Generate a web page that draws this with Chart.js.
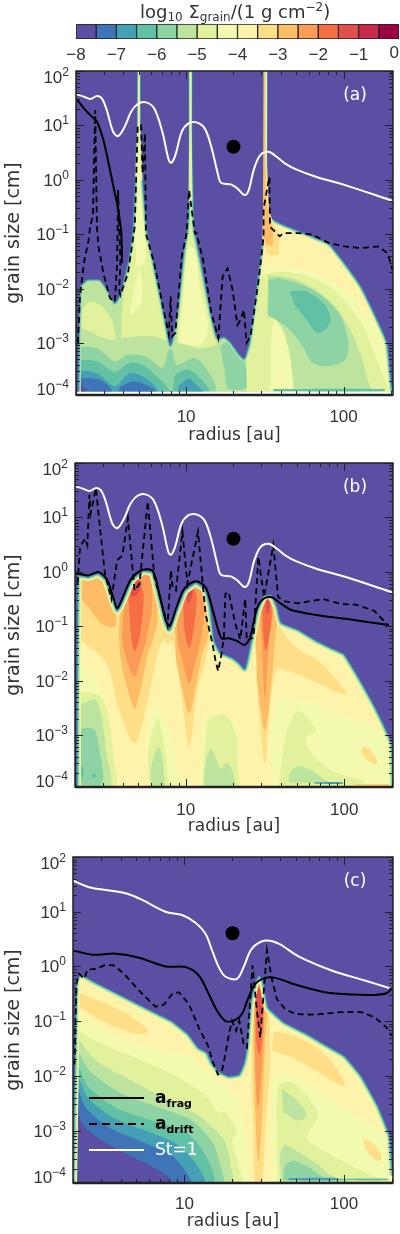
<!DOCTYPE html>
<html>
<head>
<meta charset="utf-8">
<script src="https://cdn.jsdelivr.net/npm/chart.js@4/dist/chart.umd.js"></script>
<style>
body { margin: 0; background: #fff; }
canvas { position: absolute; left: 0; }
</style>
</head>
<body>
<canvas id="colorbar" width="400" height="70" style="top:0"></canvas>
<canvas id="panelA" width="400" height="400" style="top:60px"></canvas>
<canvas id="panelB" width="400" height="390" style="top:455px"></canvas>
<canvas id="panelC" width="400" height="386" style="top:848px"></canvas>
<script>
// log10 sigma_grain contour levels, -8 to 0 in steps of 0.5
const levelEdges = [-8,-7.5,-7,-6.5,-6,-5.5,-5,-4.5,-4,-3.5,-3,-2.5,-2,-1.5,-1,-0.5,0];
const levelColors = ["#5a4fa2","#3f74b6","#46a0b5","#62c1a5","#8dd3a3","#bce49f","#e2f19b","#f3f9ae",
  "#fff3ab","#fedf87","#fdbd66","#fb9c56","#f76d44","#e0504b","#c8294c","#9e0142"];
const yPowers = [2,1,0,-1,-2,-3,-4];
const xLabels = [10,100];
const colorbarTicks = [-8,-7,-6,-5,-4,-3,-2,-1,0];
const planetRadius = [20];
const planetSize = [4.05];

// all curves and contours are flat lists of log10(radius/au), log10(size/cm)
const stokesAB = [.305,1.571,.351,1.528,.392,1.485,.434,1.54,.465,1.497,.496,1.282,.537,.883,.568,.804,.61,.975,.651,1.25,.693,1.393,.745,1.423,.797,1.313,.849,.883,.89,.362,.907,.313,.932,.454,.973,.883,1.015,1.037,1.066,1.055,1.118,.945,1.16,.607,1.201,.117,1.222,-.055,1.284,-.086,1.326,-.16,1.371,-.282,1.398,-.19,1.429,.178,1.471,.454,1.523,.515,1.575,.423,1.627,.301,1.699,.19,1.824,.055,2.01,-.098,2.315,-.393];
const stokesC = [.298,1.571,.402,1.448,.527,1.387,.631,1.337,.735,1.215,.881,1,.985,.939,1.069,.798,1.131,.601,1.173,.294,1.215,-.012,1.256,-.184,1.329,-.227,1.371,-.012,1.423,.325,1.506,.472,1.59,.417,1.715,.184,1.923,-.074,2.131,-.258,2.288,-.399];
const fragA = [.305,1.485,.351,1.313,.402,1.16,.434,1.067,.475,.73,.517,.178,.548,-.252,.562,-.436,.579,-.742,.589,-.988,.593,-1.53];
const fragB = [.308,-.025,.385,-.068,.448,-.006,.5,-.13,.542,-.469,.567,-.673,.594,-.531,.656,-.13,.729,.037,.792,.012,.833,-.407,.875,-.901,.9,-.994,.938,-.685,.99,-.315,1.063,-.173,1.125,-.284,1.177,-.778,1.225,-1.222,1.271,-1.222,1.323,-1.272,1.371,-1.346,1.406,-1.21,1.448,-.685,1.49,-.5,1.542,-.469,1.604,-.593,1.667,-.704,1.813,-.79,2.021,-.87,2.271,-.975];
const fragC = [.298,.294,.423,.215,.569,.233,.715,.16,.881,0,1.006,-.012,1.09,-.166,1.152,-.503,1.204,-.81,1.256,-.994,1.308,-.994,1.36,-.871,1.402,-.564,1.444,-.319,1.506,-.209,1.569,-.209,1.715,-.35,1.881,-.472,2.048,-.515,2.194,-.521,2.267,-.491,2.298,-.411];
const driftA = [.313,-3,.326,-2.15,.351,-1.53,.382,-1.1,.388,-.926,.409,-.62,.423,1.28,.434,-.865,.444,-1.23,.475,-1.72,.517,-2.18,.548,-2.24,.562,-1.53,.568,-.19,.583,-1.53,.575,-2.02,.583,-2.12,.631,-1.72,.662,-1.1,.674,-.865,.693,1,.714,1,.724,.117,.739,.853,.745,-.99,.797,-1.53,.849,-2.27,.89,-2.85,.902,-2.15,.911,-2.88,.932,-2.82,.973,-1.41,1.004,-.98,1.019,-.19,1.056,-.99,1.066,-.98,1.108,-1.47,1.16,-2.45,1.205,-2.91,1.232,-1.78,1.263,-1.63,1.295,-2.02,1.326,-2.67,1.346,-2.58,1.367,-2.39,1.384,-3,1.409,-2.88,1.461,-1.84,1.492,-1.04,1.492,-.53,1.529,.055,1.533,-.865,1.595,-1.04,1.616,-.98,1.71,-.98,1.803,-1.01,1.907,-1.165,2.01,-1.227,2.114,-1.257,2.218,-1.227,2.28,-1.35,2.311,-1.656];
const driftB = [.317,-.222,.333,.457,.365,.611,.379,.488,.392,1.414,.4,1.074,.433,1.537,.458,.827,.49,-.037,.531,-.5,.567,.21,.6,.302,.635,.981,.677,-.346,.708,-.222,.76,1.29,.802,-.099,.854,-.654,.885,-.994,.906,.025,.917,-.284,.938,-.346,.979,.735,1.01,-.222,1.077,.735,1.125,-.778,1.167,-1.302,1.188,-1.642,1.204,-1.827,1.225,-1.519,1.24,-1.21,1.25,-.407,1.271,-.377,1.313,-.963,1.344,-1.241,1.375,-.5,1.385,-1.272,1.427,-1.21,1.458,.272,1.494,-.469,1.552,.488,1.583,-.469,1.625,-.543,1.708,-.58,1.865,-.5,1.979,-.593,2.073,-.605,2.188,-.716,2.281,-.994];
const driftC = [.31,-1.79,.323,-.319,.34,-.135,.371,-.227,.392,-.06,.444,-.043,.506,.03,.558,.018,.621,-.135,.715,-.442,.819,-.736,.871,-.699,.923,-.503,.965,-.472,1.027,-.687,1.09,-1.117,1.148,-1.454,1.183,-1.791,1.21,-1.975,1.235,-1.914,1.256,-1.607,1.281,-1.209,1.298,-.994,1.323,-1.178,1.344,-.994,1.371,-1.423,1.392,-1.485,1.427,.018,1.454,-.81,1.475,-1.3,1.517,.294,1.548,-.227,1.579,-.595,1.631,-.779,1.694,-.871,1.819,-.883,1.985,-.834,2.11,-.834,2.194,-.933,2.267,-1.117,2.298,-1.27];

// upper limit of the populated region in each panel
const edgeA = [.313,-3.99,.315,-3,.326,-1.96,.371,-1.83,.454,-1.83,.496,-1.99,.548,-2.26,.579,-2.09,.631,-1.47,.658,-.92,.672,-.006,.687,1,.689,2.1,.712,2.1,.714,1,.728,-.006,.755,-.92,.797,-1.53,.849,-2.27,.89,-2.88,.9,-3.04,.915,-2.88,.946,-2.33,.983,-1.29,1.004,-.92,1.013,-.374,1.015,.853,1.015,2.1,1.041,2.1,1.041,.853,1.05,-.374,1.056,-.92,1.098,-1.53,1.16,-2.45,1.201,-2.91,1.243,-2.88,1.284,-2.98,1.336,-3.19,1.367,-3.28,1.398,-3,1.45,-1.84,1.481,-1.1,1.49,.239,1.492,2.1,1.519,2.1,1.519,.239,1.525,-.497,1.55,-.712,1.616,-.816,1.824,-1.061,1.907,-1.165,2.01,-1.533,2.114,-1.963,2.218,-2.577,2.28,-3.006,2.311,-3.865,2.315,-3.99];
const edgeB = [.31,-3.99,.317,-.068,.385,-.086,.448,-.025,.5,-.148,.542,-.5,.567,-.704,.594,-.562,.656,-.148,.729,.025,.792,-.006,.833,-.438,.871,-.901,.896,-1.056,.938,-.716,.99,-.346,1.063,-.191,1.125,-.315,1.156,-.654,1.183,-1.264,1.219,-1.479,1.292,-1.571,1.344,-1.693,1.371,-1.785,1.385,-1.632,1.41,-1.264,1.448,-.716,1.49,-.438,1.542,-.42,1.579,-.654,1.604,-.932,1.708,-1.056,1.813,-1.241,1.917,-1.395,2,-1.509,2.104,-2,2.208,-2.552,2.302,-3.166,2.31,-3.99];
const edgeC = [.298,-3.97,.31,-1.7,.319,-.258,.35,-.147,.444,-.288,.548,-.442,.673,-.626,.798,-.81,.923,-.994,1.027,-1.239,1.09,-1.485,1.142,-1.57,1.173,-1.76,1.215,-1.91,1.277,-2,1.34,-1.97,1.371,-1.76,1.392,-1.39,1.413,-.626,1.444,-.258,1.469,-.147,1.496,-.288,1.527,-.748,1.569,-.871,1.631,-1.025,1.756,-1.209,1.881,-1.423,2.006,-1.636,2.11,-2,2.215,-2.545,2.288,-3.09,2.308,-3.82,2.308,-3.97];

// filled contours: [level index, outline], painted in this order
const blobsA = [
  [6,[.34,-2.39,.39,-2.24,.454,-2.3,.517,-2.51,.548,-2.76,.548,-2.94,.475,-2.91,.392,-2.79,.33,-2.73]],
  [6,[.589,-2.91,.595,-2.33,.631,-1.59,.662,-.92,.683,.92,.688,2.1,.712,2.1,.725,.92,.755,-.92,.807,-1.72,.859,-2.51,.886,-2.94,.786,-2.88,.703,-2.88]],
  [7,[.641,-2.45,.672,-1.96,.703,-1.66,.724,-1.96,.714,-2.27,.662,-2.48]],
  [7,[.676,-.92,.689,.92,.712,.92,.735,-.92,.745,-1.41,.714,-1.59,.683,-1.59]],
  [6,[.942,-3,.963,-2.15,.994,-1.29,1.015,-.92,1.021,2.1,1.037,2.1,1.056,-.92,1.087,-1.41,1.129,-2.21,1.18,-2.88,1.191,-3.03,1.077,-3.1,.994,-3.03]],
  [7,[.952,-2.97,.977,-2.27,1.015,-1.23,1.056,-1.29,1.087,-1.96,1.139,-2.7,1.098,-3.03,.994,-3.03]],
  [7,[1.39,-4.1,1.39,-2.9,1.45,-.5,2.4,-.5,2.4,-4.1]],
  [8,[1.47,-.5,2.4,-.5,2.4,-3.2,2.218,-2.7,2.077,-2.21,1.907,-1.84,1.699,-1.62,1.533,-1.59,1.471,-1.78]],
  [6,[1.398,-2.94,1.45,-1.84,1.512,-1.72,1.699,-1.72,1.907,-1.96,2.114,-2.64,2.218,-3.37,2.29,-3.865,2.3,-4.05,1.388,-4.05]],
  [7,[1.537,-3.865,1.544,-2.76,1.564,-2.58,1.616,-2.82,1.658,-3.25,1.679,-3.865]],
  [8,[1.581,-3.865,1.595,-3.53,1.61,-3.865]],
  [5,[1.523,-1.75,1.699,-1.84,1.907,-2.21,2.031,-2.7,2.114,-3.25,2.145,-3.62,2.166,-3.865,1.699,-3.865,1.679,-3.62,1.658,-3.19,1.616,-2.76,1.564,-2.56,1.512,-2.48]],
  [4,[1.523,-1.84,1.595,-1.81,1.803,-2.02,1.969,-2.45,2.031,-3,2.01,-3.31,1.907,-3.43,1.803,-3.37,1.741,-3.07,1.658,-2.76,1.575,-2.58,1.523,-2.51]],
  [3,[1.658,-2.05,1.762,-2.05,1.881,-2.3,1.918,-2.58,1.881,-2.76,1.829,-2.82,1.767,-2.58,1.689,-2.3]],
  [3,[1.554,-3.85,2.259,-3.85,2.259,-3.89,1.554,-3.89]],
  [4,[.29,-3.07,.434,-3.1,.548,-3.34,.631,-3.22,.745,-3.25,.849,-3.46,.89,-3.13,.911,-3.13,.942,-3.4,1.056,-3.28,1.16,-3.62,1.18,-3.89,.29,-3.89]],
  [4,[1.218,-3.07,1.263,-2.97,1.316,-3.13,1.367,-3.31,1.382,-3.8,1.336,-3.865,1.263,-3.83,1.243,-3.49]],
  [3,[.29,-3.31,.434,-3.34,.548,-3.53,.641,-3.37,.724,-3.4,.849,-3.71,.911,-3.89,.932,-3.59,1.015,-3.49,1.098,-3.68,1.143,-3.89,.29,-3.89]],
  [2,[.29,-3.49,.434,-3.56,.548,-3.8,.641,-3.56,.745,-3.65,.818,-3.89,.29,-3.89]],
  [2,[.952,-3.79,1.015,-3.66,1.077,-3.8,1.108,-3.89,.947,-3.89]],
  [1,[.29,-3.65,.454,-3.68,.527,-3.89,.29,-3.89]],
  [1,[.583,-3.81,.662,-3.71,.745,-3.77,.807,-3.89,.568,-3.89]],
  [0,[.29,-3.6,.33,-3.75,.37,-3.89,.29,-3.89]]
];
// painted over the sky so they stay visible inside the narrow spikes
const overA = [
  [6,[.694,2.1,.707,2.1,.709,1,.722,-.006,.678,-.006,.692,1]],
  [7,[.696,.6,.705,.6,.715,-.3,.685,-.3]],
  [6,[1.021,2.1,1.035,2.1,1.036,.85,1.04,-.4,1.018,-.4,1.02,.85]],
  [9,[1.505,.2,1.515,.2,1.53,-.6,1.59,-1.02,1.59,-1.38,1.52,-1.38,1.485,-1.1,1.492,-.3]],
  [10,[1.492,2.1,1.504,2.1,1.506,-.3,1.55,-.9,1.55,-1.2,1.51,-1.2,1.488,-1]],
  [8,[1.504,2.1,1.513,2.1,1.513,.2,1.504,.2]]
];
const blobsB = [
  [8,[.29,1,2.4,1,2.4,-3,2.26,-3.04,2.167,-2.8,2.02,-2.67,1.833,-2.43,1.625,-2.31,1.573,-2.37,1.531,-3.1,1.531,-3.96,1.354,-3.96,1.333,-3.04,1.25,-2.61,1.135,-2.67,1.104,-3.1,1.094,-3.96,.983,-3.96,.917,-3.1,.865,-2.74,.823,-2.46,.775,-2.64,.75,-3.1,.771,-3.96,.552,-3.96,.552,-3.53,.5,-2.49,.438,-1.97,.354,-1.69,.29,-1.39]],
  [6,[.29,-2.2,.458,-2.28,.51,-2.64,.542,-3.35,.552,-3.96,.29,-3.96]],
  [5,[.29,-2.4,.333,-2.43,.427,-2.35,.469,-2.67,.5,-3.35,.521,-3.96,.29,-3.96]],
  [4,[.29,-2.9,.417,-2.89,.448,-3.16,.469,-3.9,.29,-3.9]],
  [3,[.29,-3.41,.35,-3.59,.35,-3.78,.29,-3.9]],
  [3,[.406,-3.75,.42,-3.7,.435,-3.75,.42,-3.8]],
  [6,[.771,-3.96,.765,-3.28,.823,-2.71,.865,-3.22,.885,-3.72,.896,-3.96]],
  [5,[.781,-3.96,.781,-3.6,.827,-3.22,.854,-3.47,.869,-3.96]],
  [6,[1.104,-3.96,1.125,-3.1,1.146,-2.72,1.25,-2.64,1.323,-3.04,1.323,-3.35,1.344,-3.96]],
  [5,[1.115,-3.96,1.125,-3.53,1.156,-3.26,1.188,-3.41,1.219,-3.62,1.26,-3.52,1.302,-3.72,1.308,-3.96]],
  [6,[1.583,-3.96,1.604,-3.53,1.635,-2.98,1.708,-2.56,1.823,-2.92,1.76,-3.04,1.781,-3.29,1.917,-3.65,2.125,-3.87,2,-3.96]],
  [5,[1.646,-3.87,1.667,-3.65,1.74,-3.58,1.875,-3.81,1.917,-3.9]],
  [2,[1.8125,-3.87,1.99,-3.87,1.99,-3.9,1.8125,-3.9]],
  [10,[2.063,-3.91,2.29,-3.91,2.29,-3.93,2.063,-3.93]],
  [9,[2.115,-3.22,2.156,-3.25,2.208,-3.47,2.198,-3.54,2.146,-3.47,2.108,-3.32]],
  [9,[.29,1,.29,-1.3,.333,-1.26,.5,-1.69,.573,-2.49,.677,-3.16,.75,-2.49,.813,-1.63,.854,-1.26,.885,-1.33,.917,-1.26,.969,-2.18,1.021,-3.23,1.073,-2.18,1.125,-1.63,1.167,-1.26,1.417,-1.26,1.458,-2.49,1.5,-3.53,1.531,-2.49,1.573,-1.81,1.646,-1.81,2.01,-2.27,1.99,-2.12,1.833,-1.63,1.708,-1.42,1.6,-1,1.6,1]],
  [10,[.29,.3,.56,.3,.56,-.9,.552,-1.02,.469,-.96,.385,-.65,.29,-.35]],
  [10,[.594,-.53,.579,-1.15,.594,-1.69,.635,-2.18,.677,-2.52,.719,-2.12,.76,-1.51,.792,-1.26,.823,-.84,.79,.3,.59,.3]],
  [10,[.938,-1.63,.979,-2.18,1.021,-2.61,1.063,-2.12,1.104,-1.51,1.135,-1.26,1.167,-.72,1.17,.3,.93,.3,.93,-.9]],
  [10,[1.448,-2,1.5,-2.92,1.542,-2,1.5625,-1.26,1.58,-.78,1.58,.3,1.44,.3,1.44,-.9]],
  [11,[.615,-.47,.6,-1.26,.635,-1.69,.677,-1.94,.708,-1.69,.75,-1.26,.788,-.59,.75,.3,.62,.3]],
  [11,[.948,-.72,.948,-1.26,.979,-1.63,1.021,-2.06,1.063,-1.63,1.094,-1.26,1.115,-.72,1.1,.3,.96,.3]],
  [11,[1.469,-.72,1.479,-1.26,1.5,-2.37,1.525,-1.26,1.552,-.72,1.54,.3,1.48,.3]],
  [12,[.635,-.35,.656,-1.21,.677,-1.46,.708,-1.21,.733,-.41,.6875,-.13]],
  [12,[.983,-.41,.99,-1.02,1.021,-1.4,1.052,-1.02,1.067,-.41,1.021,-.22]],
  [12,[1.483,-.65,1.49,-1.21,1.506,-1.46,1.525,-1.21,1.542,-.72,1.517,-.47]],
  [13,[.65,-.35,.667,-.47,.708,-.35,.719,-.19,.6875,-.13,.6625,-.19]],
  [13,[1,-.47,1.017,-.59,1.0375,-.47,1.042,-.35,1.017,-.3]],
  [13,[1.504,-.65,1.517,-.78,1.533,-.65,1.525,-.53,1.51,-.53]]
];
const blobsC = [
  [8,[.29,1,2.4,1,2.4,-3.2,2.277,-3.09,2.194,-2.91,2.048,-2.67,1.84,-2.24,1.652,-1.94,1.558,-2,1.538,-2.91,1.538,-3.97,1.413,-3.97,1.392,-3.21,1.34,-2.42,1.256,-2.18,1.173,-2,1.027,-1.636,.819,-1.485,.548,-1.239,.329,-.81,.29,-.75]],
  [9,[1.558,-1.18,1.715,-1.3,1.892,-1.636,2.006,-2.12,1.985,-2.18,1.84,-1.94,1.673,-1.66,1.548,-1.54]],
  [9,[.329,-.472,.465,-.626,.642,-.871,.771,-1.178,.715,-1.239,.527,-1.055,.34,-.748]],
  [6,[1.59,-3.97,1.579,-3.21,1.59,-2.18,1.673,-2.12,1.767,-2.36,1.84,-2.73,1.798,-2.94,1.767,-3.15,1.819,-3.27,1.965,-3.52,2.173,-3.82,2.298,-3.93,2.298,-4]],
  [5,[1.61,-3.97,1.6,-3.45,1.631,-3.27,1.715,-3.39,1.84,-3.63,1.923,-3.82,2.048,-3.94,2.069,-3.97]],
  [4,[1.621,-3.91,1.631,-3.64,1.683,-3.55,1.777,-3.67,1.85,-3.82,1.923,-3.91]],
  [5,[1.61,-2.24,1.683,-2.39,1.767,-2.7,1.715,-2.82,1.621,-2.67]],
  [2,[1.652,-3.87,1.965,-3.87,1.965,-3.91,1.652,-3.91]],
  [3,[1.965,-3.88,2.277,-3.88,2.277,-3.91,1.965,-3.91]],
  [9,[2.131,-3.93,2.3,-3.93,2.3,-3.95,2.131,-3.95]],
  [9,[2.121,-3.15,2.173,-3.21,2.235,-3.45,2.225,-3.56,2.163,-3.45,2.125,-3.27]],
  [9,[1.433,-.442,1.419,-1.636,1.433,-3,1.444,-3.97,1.485,-3.97,1.506,-3,1.538,-1.636,1.527,-.748,1.496,-.26,1.454,-.227]],
  [10,[1.433,-.503,1.433,-1.39,1.448,-3,1.465,-3.58,1.481,-3,1.506,-1.39,1.517,-.81,1.485,-.288,1.448,-.319]],
  [11,[1.4375,-.5,1.444,-1.88,1.46,-2.6,1.485,-1.88,1.5,-.81,1.479,-.32,1.454,-.32]],
  [12,[1.448,-.38,1.45,-1.36,1.469,-1.64,1.485,-1.36,1.496,-.564,1.475,-.32]],
  [13,[1.454,-.44,1.454,-.93,1.475,-1.12,1.485,-.75,1.48,-.38]],
  [6,[.29,-1.1,.34,-1.18,.465,-1.39,.715,-1.7,.944,-2,1.131,-2.36,1.215,-2.67,1.256,-2.67,1.298,-2.85,1.329,-3,1.298,-3.21,1.34,-3.64,1.35,-3.97,.29,-4]],
  [5,[.29,-1,.35,-1.39,.465,-1.76,.652,-2.06,.881,-2.42,1.09,-2.73,1.194,-3,1.256,-3.21,1.288,-3.64,1.298,-3.97,.29,-4]],
  [4,[.29,-1.5,.335,-1.57,.402,-1.9,.59,-2.3,.84,-2.58,1.048,-2.82,1.173,-3.21,1.225,-3.64,1.235,-3.97,.29,-4]],
  [3,[.29,-1.7,.335,-1.82,.392,-2.18,.569,-2.58,.798,-2.82,1.006,-3.03,1.131,-3.45,1.173,-3.97,.29,-4]],
  [2,[.29,-1.9,.329,-2,.392,-2.39,.548,-2.75,.756,-3,.965,-3.27,1.1,-3.73,1.121,-3.97,.29,-4]],
  [1,[.29,-2.1,.323,-2.18,.381,-2.58,.527,-2.94,.735,-3.21,.923,-3.46,1.017,-3.79,1.038,-3.97,.29,-4]],
  [0,[.29,-2.5,.319,-2.42,.36,-2.88,.465,-3.15,.673,-3.48,.84,-3.73,.906,-3.88,.912,-4,.29,-4]]
];

const FONT = "'DejaVu Sans', sans-serif";
const NUM_FONT = "'Liberation Sans', sans-serif";
const TEXT = "#333";

function toPoints(flat) {
  const pts = [];
  for (let i = 0; i < flat.length; i += 2) pts.push({x: 10 ** flat[i], y: 10 ** flat[i + 1]});
  return pts;
}

function fillSet(flat, color, tension) {
  return {data: toPoints(flat), showLine: true, fill: "shape", backgroundColor: color,
          borderWidth: 0, pointRadius: 0, tension: tension, clip: 0};
}

function strokeSet(flat, color, width, tension) {
  return {data: toPoints(flat), showLine: true, fill: false, borderColor: color, borderWidth: width,
          borderJoinStyle: "round", pointRadius: 0, tension: tension, clip: 0};
}

function curveSet(flat, color, width, dash, tension) {
  return {data: toPoints(flat), showLine: true, fill: false, borderColor: color, borderWidth: width,
          borderDash: dash, pointRadius: 0, tension: tension, clip: 0};
}

// text runs with sub/superscripts, returns end x
function drawRuns(ctx, runs, x, y) {
  ctx.textAlign = "left";
  ctx.textBaseline = "alphabetic";
  runs.forEach(r => {
    ctx.font = (r.bold ? "bold " : "") + r.size + "px " + (r.family || FONT);
    ctx.fillStyle = r.color || TEXT;
    ctx.fillText(r.text, x, y + (r.dy || 0));
    x += ctx.measureText(r.text).width;
  });
  return x;
}

// inward ticks on all four sides, frame, y decade labels
const frameTicks = {
  id: "frameTicks",
  afterDatasetsDraw(chart) {
    const {ctx, chartArea: a, scales: {x, y}} = chart;
    ctx.save();
    ctx.strokeStyle = "#222";
    ctx.lineWidth = 1;
    ctx.beginPath();
    for (let e = 0; e <= 2; e++) for (let m = 1; m < 10; m++) {
      const v = m * 10 ** e;
      if (v < x.min || v > x.max) continue;
      const px = Math.round(x.getPixelForValue(v)) + .5;
      const len = m === 1 ? 8 : 4;
      ctx.moveTo(px, a.bottom); ctx.lineTo(px, a.bottom - len);
      ctx.moveTo(px, a.top); ctx.lineTo(px, a.top + len);
    }
    for (let e = -4; e <= 2; e++) for (let m = 1; m < 10; m++) {
      const v = m * 10 ** e;
      if (v < y.min || v > y.max) continue;
      const py = Math.round(y.getPixelForValue(v)) + .5;
      const len = m === 1 ? 8 : 4;
      ctx.moveTo(a.left, py); ctx.lineTo(a.left + len, py);
      ctx.moveTo(a.right, py); ctx.lineTo(a.right - len, py);
    }
    ctx.stroke();
    ctx.lineWidth = 1.5;
    ctx.strokeRect(a.left, a.top, a.right - a.left, a.bottom - a.top);
    ctx.beginPath();
    ctx.lineWidth = 2.5;
    ctx.moveTo(a.left, a.bottom); ctx.lineTo(a.right, a.bottom);
    ctx.stroke();
    yPowers.forEach(p => {
      let py = Math.min(y.getPixelForValue(10 ** p), a.bottom);
      if (p === 2) py += 6;
      if (p === -4) py -= 6;
      const exp = String(p).replace("-", "\u2212");
      ctx.font = "12px " + NUM_FONT;
      const ew = ctx.measureText(exp).width;
      ctx.font = "17px " + NUM_FONT;
      const bw = ctx.measureText("10").width;
      const x0 = a.left - 7 - ew - bw;
      drawRuns(ctx, [{text: "10", size: 17, family: NUM_FONT}, {text: exp, size: 12, dy: -7, family: NUM_FONT}], x0, py + 6);
    });
    const tag = chart.options.plugins.frameTicks.tag;
    ctx.font = "17px " + FONT;
    ctx.fillStyle = "#fff";
    ctx.textAlign = "center";
    ctx.textBaseline = "middle";
    ctx.fillText(tag, a.right - 38, a.top + 25);
    ctx.restore();
  }
};

// key inside panel (c)
const curveKey = {
  id: "curveKey",
  afterDatasetsDraw(chart) {
    if (!chart.options.plugins.curveKey.show) return;
    const ctx = chart.ctx;
    const a = chart.chartArea;
    const rows = [
      {y: 241, color: "#000", dash: [], runs: [{text: "a", size: 17, color: "#000", bold: true}, {text: "frag", size: 11, dy: 4, color: "#000", bold: true}]},
      {y: 267, color: "#000", dash: [8, 5], runs: [{text: "a", size: 17, color: "#000", bold: true}, {text: "drift", size: 11, dy: 4, color: "#000", bold: true}]},
      {y: 293, color: "#fff", dash: [], runs: [{text: "St=1", size: 17, color: "#fff"}]}
    ];
    ctx.save();
    rows.forEach(r => {
      ctx.strokeStyle = r.color;
      ctx.lineWidth = 2;
      ctx.setLineDash(r.dash);
      ctx.beginPath();
      ctx.moveTo(a.left + 16, a.top + r.y);
      ctx.lineTo(a.left + 71, a.top + r.y);
      ctx.stroke();
      drawRuns(ctx, r.runs, a.left + 82, a.top + r.y + 5);
    });
    ctx.restore();
  }
};

function makePanel(id, cfg) {
  const sets = [];
  sets.push(fillSet([.2, -4.3, 2.45, -4.3, 2.45, 2.6, .2, 2.6], levelColors[cfg.base], 0));
  cfg.blobs.forEach(b => sets.push(fillSet(b[1], levelColors[b[0]], .3)));
  // steep falloff along the edge of the populated region
  const widths = [9, 7.5, 6, 4.5, 3.2, 2.2, 1.2];
  for (let lev = cfg.top, i = 7 - cfg.top; lev >= 1; lev--, i++) {
    sets.push(strokeSet(cfg.edge, levelColors[lev], widths[i], .12));
  }
  const n = cfg.edge.length;
  const sky = cfg.edge.concat([2.45, cfg.edge[n - 1], 2.45, 2.6, .2, 2.6, .2, cfg.edge[1]]);
  sets.push(fillSet(sky, levelColors[0], .12));
  (cfg.over || []).forEach(b => sets.push(fillSet(b[1], levelColors[b[0]], .1)));
  sets.push(fillSet([.2, cfg.floor, 2.45, cfg.floor, 2.45, -4.4, .2, -4.4], "#ffffff", 0));
  sets.push(curveSet(cfg.frag, "#000", 2, [], .3));
  sets.push(curveSet(cfg.drift, "#000", 1.8, [6, 4], 0));
  sets.push(curveSet(cfg.stokes, "#fff", 2, [], .35));
  sets.push({data: [{x: planetRadius[0], y: planetSize[0]}], showLine: false, pointRadius: 7,
             pointBackgroundColor: "#000", pointBorderWidth: 0});
  sets.forEach((s, i) => { s.order = sets.length - i; });

  return new Chart(document.getElementById(id), {
    type: "scatter",
    data: {datasets: sets},
    plugins: [frameTicks, curveKey],
    options: {
      responsive: false,
      animation: false,
      events: [],
      devicePixelRatio: 1,
      layout: {padding: {top: cfg.padTop, right: cfg.padRight, left: 0, bottom: 0}},
      plugins: {
        legend: {display: false},
        tooltip: {enabled: false},
        filler: {propagate: false},
        frameTicks: {tag: cfg.tag},
        curveKey: {show: !!cfg.key}
      },
      scales: {
        x: {
          type: "logarithmic", min: 2, max: cfg.rMax,
          grid: {display: false, drawTicks: false},
          border: {display: false},
          afterBuildTicks: s => { s.ticks = xLabels.map(v => ({value: v})); },
          afterFit: s => { s.height = cfg.xHeight; },
          ticks: {
            autoSkip: false, maxRotation: 0, padding: cfg.tickPad, color: TEXT,
            font: {family: NUM_FONT, size: 17},
            callback: v => String(v)
          },
          title: {display: true, text: "radius [au]", color: TEXT, font: {family: FONT, size: 17},
                  padding: {top: 0, bottom: cfg.titlePad}}
        },
        y: {
          type: "logarithmic", min: 1.1e-4, max: 100,
          grid: {display: false, drawTicks: false},
          border: {display: false},
          afterFit: s => { s.width = cfg.left; },
          ticks: {display: false},
          title: {display: true, text: "grain size [cm]", color: TEXT, font: {family: FONT, size: 19},
                  padding: {top: 3, bottom: 0}}
        }
      }
    }
  });
}

// colour bar on top, one floating bar per contour level
new Chart(document.getElementById("colorbar"), {
  type: "bar",
  data: {
    labels: [""],
    datasets: levelColors.map((c, i) => ({
      data: [[levelEdges[i], levelEdges[i + 1]]],
      backgroundColor: c, borderColor: "#222", borderWidth: 1, borderSkipped: false,
      barPercentage: 1, categoryPercentage: 1
    }))
  },
  plugins: [{
    id: "barTitle",
    afterDraw(chart) {
      const ctx = chart.ctx;
      const a = chart.chartArea;
      ctx.save();
      drawRuns(ctx, [
        {text: "log", size: 18}, {text: "10", size: 12, dy: 3},
        {text: " \u03a3", size: 18}, {text: "grain", size: 12, dy: 3},
        {text: "/(1 g cm", size: 18}, {text: "\u22122", size: 12, dy: -7}, {text: ")", size: 18}
      ], 140, 18);
      // last tick label sits inside the page edge
      ctx.font = "17px " + NUM_FONT;
      ctx.fillStyle = TEXT;
      ctx.textAlign = "right";
      ctx.textBaseline = "middle";
      ctx.fillText("0", a.right, 53);
      ctx.restore();
    }
  }],
  options: {
    indexAxis: "y",
    responsive: false,
    animation: false,
    events: [],
    devicePixelRatio: 1,
    layout: {padding: {left: 76, right: 1, top: 24, bottom: 0}},
    plugins: {legend: {display: false}, tooltip: {enabled: false}},
    scales: {
      x: {
        type: "linear", min: -8, max: 0, stacked: false,
        grid: {display: false, drawTicks: false},
        border: {display: false},
        afterBuildTicks: s => { s.ticks = colorbarTicks.slice(0, -1).map(v => ({value: v})); },
        afterFit: s => { s.height = 31; s.paddingRight = 0; },
        ticks: {
          padding: 6, color: TEXT, maxRotation: 0, autoSkip: false,
          font: {family: NUM_FONT, size: 17},
          callback: v => String(v).replace("-", "\u2212")
        }
      },
      y: {display: false, stacked: true}
    }
  }
});

makePanel("panelA", {
  tag: "(a)", base: 5, top: 5, blobs: blobsA, over: overA, edge: edgeA, floor: -3.9,
  frag: fragA, drift: driftA, stokes: stokesAB,
  rMax: 206, padTop: 11, padRight: 2, left: 76, xHeight: 65, tickPad: 12, titlePad: 14
});
makePanel("panelB", {
  tag: "(b)", base: 7, top: 7, blobs: blobsB, edge: edgeB, floor: -3.94,
  frag: fragB, drift: driftB, stokes: stokesAB,
  rMax: 203, padTop: 8, padRight: 4, left: 75, xHeight: 58, tickPad: 13, titlePad: 8
});
makePanel("panelC", {
  tag: "(c)", base: 7, top: 7, blobs: blobsC, edge: edgeC, floor: -3.95,
  frag: fragC, drift: driftC, stokes: stokesC, key: true,
  rMax: 203, padTop: 9, padRight: 7, left: 73, xHeight: 51, tickPad: 11, titlePad: 2
});
</script>
</body>
</html>
